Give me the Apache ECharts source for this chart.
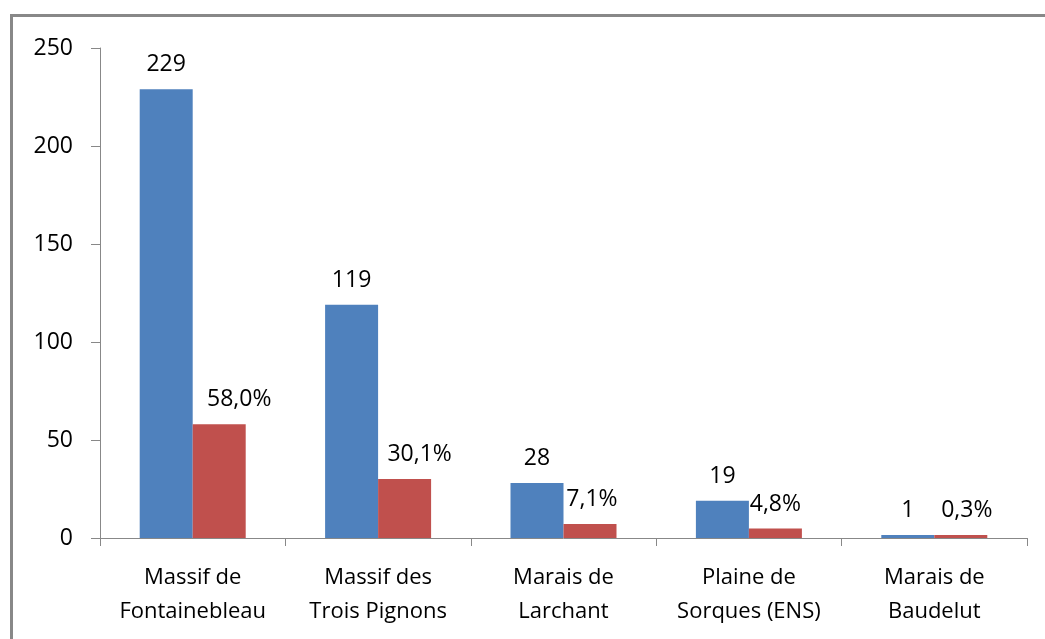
<!DOCTYPE html>
<html lang="fr">
<head>
    <meta charset="UTF-8">
    <title>Sites</title>
    <script src="https://cdn.jsdelivr.net/npm/echarts@6/dist/echarts.min.js"></script>
    <style>
        html, body { margin: 0; padding: 0; background: #fff; }
        #chart { width: 1045px; height: 639px; }
    </style>
</head>
<body>
    <div id="chart"></div>
    <script>
        var sites = ['Massif de\nFontainebleau', 'Massif des\nTrois Pignons', 'Marais de\nLarchant', 'Plaine de\nSorques (ENS)', 'Marais de\nBaudelut'];
        var counts = [229, 119, 28, 19, 1];
        var percents = [58.0, 30.1, 7.1, 4.8, 0.3];
        var yTicks = [0, 50, 100, 150, 200, 250];

        // Excel nudged the first two percentage labels to the right
        var pctLabelShift = [20, 15, 2, 0, 6];

        var font = '"Open Sans", "Liberation Sans", sans-serif';
        var chart = echarts.init(document.getElementById('chart'));
        chart.setOption({
            animation: false,
            backgroundColor: '#fff',
            graphic: [{
                type: 'rect',
                shape: { x: 11.5, y: 15.5, width: 1050, height: 640 },
                style: { fill: 'none', stroke: '#888', lineWidth: 3 }
            }],
            grid: { left: 100, right: 18, top: 48, bottom: 101 },
            xAxis: {
                type: 'category',
                data: sites,
                axisLine: { lineStyle: { color: '#888' } },
                axisTick: { show: true, interval: 0, length: 8, lineStyle: { color: '#888' } },
                axisLabel: { interval: 0, hideOverlap: false, color: '#000', fontFamily: font, fontSize: 22, lineHeight: 34, margin: 23 }
            },
            yAxis: {
                type: 'value',
                min: yTicks[0],
                max: yTicks[yTicks.length - 1],
                interval: 50,
                splitLine: { show: false },
                axisLine: { show: true, lineStyle: { color: '#888' } },
                axisTick: { show: true, length: 9, lineStyle: { color: '#888' } },
                axisLabel: { color: '#000', fontFamily: font, fontSize: 23, margin: 27 }
            },
            series: [{
                type: 'bar',
                data: counts,
                barWidth: 53,
                barGap: '0%',
                barMinHeight: 3,
                itemStyle: { color: '#4F81BD' },
                label: { show: true, position: 'top', distance: 13, color: '#000', fontFamily: font, fontSize: 23 }
            }, {
                type: 'bar',
                data: percents.map(function (v, i) {
                    return { value: v, label: { offset: [pctLabelShift[i], 0] } };
                }),
                barWidth: 53,
                barGap: '0%',
                barMinHeight: 3,
                itemStyle: { color: '#C0504D' },
                label: {
                    show: true, position: 'top', distance: 13, color: '#000', fontFamily: font, fontSize: 23,
                    formatter: function (p) { return p.value.toFixed(1).replace('.', ',') + '%'; }
                }
            }]
        });
    </script>
</body>
</html>
